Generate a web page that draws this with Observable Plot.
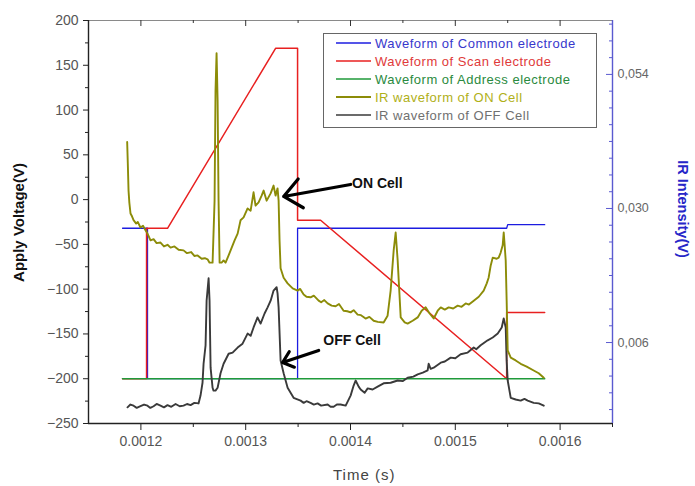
<!DOCTYPE html>
<html><head><meta charset="utf-8">
<script src="https://cdn.jsdelivr.net/npm/d3@7"></script>
<script src="https://cdn.jsdelivr.net/npm/@observablehq/plot@0.6"></script>
<style>
body{margin:0;background:#fff;}
#wrap{position:relative;width:695px;height:486px;font-family:"Liberation Sans",Arial,sans-serif;overflow:hidden;}
.ttl{position:absolute;white-space:nowrap;transform-origin:center center;}
#legend{position:absolute;left:323px;top:33px;width:274px;height:95px;border:1px solid #666;box-sizing:border-box;background:#fff;}
.row{position:absolute;left:0;width:100%;height:18px;}
.lt{position:absolute;left:51px;top:1px;font-size:13px;letter-spacing:0.5px;line-height:16px;white-space:nowrap;}
</style>
</head><body>
<div id="wrap"></div>
<script>
// ---- data (time in microseconds, electrode voltage in V, IR intensity in mV) ----
const commonT = [1182.5,1206.3,1206.3,1349.5,1349.5,1549.0,1550.0,1585.3];
const commonV = [-32,-32,-200,-200,-32,-32,-28,-28];
const scanT = [1182.5,1205.4,1205.4,1225.4,1328.5,1349.5,1349.5,1371.5,1549.0,1549.0,1585.3];
const scanV = [-200,-200,-32,-32,169,169,-23,-23,-200,-126,-126];
const addressT = [1182.5,1585.3];
const addressV = [-200,-200];
const onCellIR = [[1186.9,41.9],[1187.5,38.1],[1188.2,33.2],[1189.0,31.0],[1190.1,29.1],[1191.5,28.6],[1193.0,27.9],[1195.5,27.3],[1197.0,27.6],[1199.6,26.6],[1202.0,26.9],[1204.4,26.1],[1206.3,25.5],[1209.2,24.3],[1212.1,24.5],[1215.0,23.8],[1218.7,23.9],[1222.0,23.2],[1225.4,23.5],[1228.3,23.0],[1232.0,23.2],[1236.0,22.6],[1240.7,22.5],[1244.0,22.0],[1248.0,22.2],[1251.0,21.5],[1254.1,21.6],[1258.0,21.0],[1261.0,21.1],[1263.6,20.9],[1265.5,20.3],[1268.4,20.3],[1270.3,31.4],[1271.2,51.1],[1272.2,57.8],[1273.2,49.3],[1274.1,31.4],[1275.1,20.3],[1277.0,20.3],[1278.9,20.7],[1280.8,20.3],[1283.7,21.6],[1285.6,22.5],[1289.4,24.3],[1292.3,25.5],[1295.1,27.9],[1298.0,28.4],[1301.8,30.0],[1304.7,29.6],[1307.5,32.9],[1309.4,30.5],[1312.3,31.1],[1315.2,32.3],[1317.1,33.2],[1320.0,31.4],[1323.8,32.7],[1326.6,34.1],[1328.5,32.3],[1330.4,33.6],[1331.4,31.4],[1332.3,24.3],[1333.3,19.3],[1336.2,17.6],[1340.0,16.6],[1344.8,15.7],[1349.5,15.3],[1352.0,15.6],[1355.3,14.6],[1358.0,14.2],[1361.9,14.1],[1365.0,14.4],[1369.6,13.5],[1372.0,13.2],[1375.0,13.6],[1378.2,13.0],[1382.0,12.6],[1385.8,12.5],[1389.0,12.9],[1393.4,11.7],[1397.0,11.6],[1400.1,11.4],[1403.0,11.8],[1406.8,11.0],[1410.0,10.9],[1414.4,10.3],[1418.0,10.6],[1422.1,9.9],[1426.0,9.7],[1431.6,9.6],[1435.4,10.8],[1438.3,15.3],[1441.2,22.5],[1443.1,25.7],[1445.0,20.7],[1447.9,10.5],[1451.7,9.6],[1454.5,9.4],[1459.3,9.9],[1464.1,10.5],[1467.9,11.7],[1471.7,12.3],[1475.5,11.2],[1479.4,10.3],[1483.2,11.7],[1486.1,12.3],[1490.0,11.9],[1493.7,12.3],[1498.0,12.1],[1502.3,12.6],[1506.0,12.4],[1509.9,13.0],[1513.0,12.8],[1517.6,13.5],[1522.4,14.2],[1527.1,15.3],[1530.0,16.6],[1531.8,17.6],[1533.8,19.8],[1535.7,21.2],[1539.5,21.0],[1541.4,21.2],[1543.3,22.1],[1545.2,23.4],[1546.2,25.7],[1547.1,23.4],[1548.1,20.7],[1549.0,13.5],[1550.0,4.6],[1552.9,3.3],[1557.6,2.8],[1562.4,2.2],[1568.1,1.7],[1574.8,1.0],[1579.6,0.5],[1584.4,-0.3]];
const offCellIR = [[1187.2,-5.6],[1190.0,-5.1],[1193.0,-5.3],[1196.0,-5.7],[1199.6,-5.4],[1203.0,-5.1],[1206.3,-5.3],[1209.0,-5.7],[1212.1,-5.4],[1215.0,-5.0],[1218.7,-5.3],[1222.0,-5.6],[1225.4,-5.2],[1229.0,-5.5],[1233.1,-5.0],[1237.0,-5.4],[1240.7,-5.3],[1244.0,-5.0],[1247.4,-5.2],[1251.0,-4.8],[1255.0,-4.9],[1256.9,-3.5],[1258.8,-1.2],[1259.8,2.2],[1261.7,5.5],[1262.7,13.5],[1264.6,17.5],[1265.5,13.5],[1266.5,1.5],[1268.4,-2.1],[1269.3,-2.6],[1271.2,-2.6],[1273.2,-2.1],[1276.0,0.5],[1278.9,2.2],[1283.7,4.0],[1287.5,4.2],[1292.3,5.1],[1297.0,5.8],[1301.8,7.6],[1304.7,7.2],[1307.5,8.7],[1311.3,10.5],[1314.2,9.4],[1318.0,11.2],[1320.9,12.3],[1323.8,13.5],[1326.6,15.3],[1329.5,15.9],[1330.4,14.8],[1331.4,12.3],[1333.3,2.8],[1336.2,0.5],[1340.0,-2.1],[1345.7,-3.9],[1352.4,-4.4],[1355.3,-4.8],[1358.0,-4.5],[1361.9,-4.8],[1365.0,-5.1],[1368.6,-4.9],[1372.0,-5.3],[1378.2,-5.1],[1381.0,-5.5],[1383.9,-5.5],[1387.0,-5.1],[1390.6,-5.1],[1395.4,-5.3],[1400.1,-3.5],[1403.0,-1.7],[1404.9,-0.8],[1407.8,-1.9],[1409.7,-2.4],[1413.5,-3.0],[1416.4,-2.2],[1421.1,-2.4],[1425.9,-1.9],[1431.6,-1.3],[1438.3,-1.2],[1445.0,-0.8],[1450.0,-0.9],[1454.5,-0.3],[1460.0,-0.1],[1464.1,0.3],[1469.0,0.6],[1473.6,1.0],[1474.6,2.2],[1476.5,1.3],[1479.4,1.5],[1486.1,2.4],[1490.0,2.6],[1495.6,3.3],[1500.0,3.2],[1505.1,3.9],[1511.8,4.2],[1517.6,5.1],[1520.0,4.8],[1524.2,5.5],[1530.9,6.4],[1535.7,6.9],[1540.5,7.6],[1544.3,8.7],[1546.2,10.3],[1548.1,8.7],[1549.0,2.8],[1550.0,-0.8],[1552.9,-3.9],[1557.6,-4.2],[1562.4,-4.4],[1566.0,-4.1],[1569.1,-4.4],[1574.8,-4.8],[1579.6,-4.9],[1584.4,-5.3]];

const xTicks = [0.0012,0.0013,0.0014,0.0015,0.0016];
const xMinorTicks = [0.00125,0.00135,0.00145,0.00155,0.00165];
const yTicks = [200,150,100,50,0,-50,-100,-150,-200,-250];
const yMinorTicks = [175,125,75,25,-25,-75,-125,-175,-225];
const irTicks = [0.006,0.030,0.054];
const irMinorTicks = [-0.006,-0.003,0,0.003,0.009,0.012,0.015,0.018,0.021,0.024,0.027,0.033,0.036,0.039,0.042,0.045,0.048,0.051,0.057,0.060,0.063];
const legendNames = ["Waveform of Common electrode","Waveform of Scan electrode","Waveform of Address electrode","IR waveform of ON Cell","IR waveform of OFF Cell"];
const lineColors = ["#1c1ce0","#e82020","#1f9a3a","#8c8c08","#3a3a3a"];
const legendTextColors = ["#3838cc","#e03a3a","#2a8a40","#b0b018","#707070"];
const annotTexts = [{x:0.0014015,y:18,text:"ON Cell"},{x:0.001374,y:-157,text:"OFF Cell"}];
const annotArrows = [{x1:0.0014001,y1:16.9,x2:0.0013362,y2:3.5},{x1:0.0013696,y1:-168.5,x2:0.0013352,y2:-181.9}];

// right axis (IR intensity, V) mapped onto left voltage scale
const IR_0 = 0.030, IR_V0 = -9.9, IR_K = 6237.5;
const toLeft = ir => IR_V0 + (ir - IR_0) * IR_K;
const fromLeft = v => (v - IR_V0) / IR_K + IR_0;

const zipV = (T, V) => T.map((t, i) => ({t: t * 1e-6, v: V[i]}));
const irRows = arr => arr.map(([t, mv]) => ({t: t * 1e-6, v: toLeft(mv / 1000)}));

const common = zipV(commonT, commonV);
const scan = zipV(scanT, scanV);
const address = zipV(addressT, addressV);
const onCell = irRows(onCellIR);
const offCell = irRows(offCellIR);

const blank = () => "";
const RIGHT = "#5a5ad0";
const W = 695, H = 486, ML = 88, MR = 83, MT = 20, MB = 63;
const PW = W - ML - MR, PH = H - MT - MB;

const chart = Plot.plot({
  width: W, height: H,
  marginLeft: ML, marginRight: MR, marginTop: MT, marginBottom: MB,
  x: {domain: [0.00115, 0.00165], axis: null, label: null},
  y: {domain: [-250, 200], axis: null, label: null},
  style: {fontFamily: '"Liberation Sans", Arial, sans-serif', fontSize: "14px", color: "#444", background: "white", overflow: "visible"},
  marks: [
    Plot.ruleY([200], {stroke: "#8a8a8a", strokeWidth: 1.2}),
    // top frame ticks (inward)
    Plot.ruleX(xTicks, {stroke: "#333", insetBottom: PH - 6}),
    Plot.ruleX(xMinorTicks, {stroke: "#333", insetBottom: PH - 3}),
    // right axis ticks (inward)
    Plot.ruleY(irTicks.map(toLeft), {stroke: RIGHT, insetLeft: PW - 6}),
    Plot.ruleY(irMinorTicks.map(toLeft), {stroke: RIGHT, insetLeft: PW - 3}),
    Plot.line(common, {x: "t", y: "v", stroke: lineColors[0], strokeWidth: 1.3}),
    Plot.line(scan, {x: "t", y: "v", stroke: lineColors[1], strokeWidth: 1.5}),
    Plot.line(address, {x: "t", y: "v", stroke: lineColors[2], strokeWidth: 1.6}),
    Plot.line(offCell, {x: "t", y: "v", stroke: lineColors[4], strokeWidth: 1.9}),
    Plot.line(onCell, {x: "t", y: "v", stroke: lineColors[3], strokeWidth: 1.9}),
    Plot.arrow(annotArrows, {x1: "x1", y1: "y1", x2: "x2", y2: "y2", stroke: "black", strokeWidth: 3.2, headLength: 11, headAngle: 80}),
    Plot.text(annotTexts, {x: "x", y: "y", text: "text", textAnchor: "start", fontWeight: "bold", fontSize: 14, fill: "#111", style: "letter-spacing:1px"}),
    // left axis
    Plot.axisY(yTicks, {anchor: "left", tickSize: 5, tickPadding: 5, label: null, stroke: "#222", fill: "#555", style: "letter-spacing:0.8px"}),
    Plot.axisY(yMinorTicks, {anchor: "left", tickSize: 3, tickFormat: blank, label: null, stroke: "#222"}),
    // bottom axis
    Plot.axisX(xTicks, {anchor: "bottom", tickSize: 7, tickPadding: 6, tickFormat: d => d.toFixed(4), label: null, stroke: "#222", fill: "#555"}),
    Plot.axisX(xMinorTicks, {anchor: "bottom", tickSize: 4, tickFormat: blank, label: null, stroke: "#222"}),
    // right axis labels (IR)
    Plot.axisY(irTicks.map(toLeft), {anchor: "right", tickSize: 0, tickPadding: 5, label: null, fontSize: 12.5, fill: "#666",
      tickFormat: v => fromLeft(v).toFixed(3).replace(".", ",")}),
    Plot.ruleX([0.00165], {stroke: RIGHT, strokeWidth: 1.4}),
    Plot.ruleX([0.00115], {stroke: "#222", strokeWidth: 1.4}),
    Plot.ruleY([-250], {stroke: "#222", strokeWidth: 1.4})
  ]
});

const wrap = document.getElementById("wrap");
wrap.appendChild(chart);

function addTitle(text, cx, cy, rot, css) {
  const d = document.createElement("div");
  d.className = "ttl";
  d.textContent = text;
  d.style.cssText += css;
  wrap.appendChild(d);
  const w = d.offsetWidth, h = d.offsetHeight;
  d.style.left = (cx - w / 2) + "px";
  d.style.top = (cy - h / 2) + "px";
  d.style.transform = `rotate(${rot}deg)`;
}
addTitle("Apply Voltage(V)", 18, 222, -90, "font-weight:bold;font-size:15px;color:#111;");
addTitle("IR Intensity(V)", 682, 209, 90, "font-weight:bold;font-size:14.5px;color:#2626c8;");
addTitle("Time (s)", 364, 474, 0, "font-size:15px;color:#444;letter-spacing:1px;");

// legend drawn as a small inline SVG inside a bordered box
const NS = "http://www.w3.org/2000/svg";
const leg = document.createElement("div");
leg.id = "legend";
const lsvg = document.createElementNS(NS, "svg");
lsvg.setAttribute("width", 272); lsvg.setAttribute("height", 93);
lsvg.style.position = "absolute"; lsvg.style.left = "0"; lsvg.style.top = "0";
legendNames.forEach((name, i) => {
  const ln = document.createElementNS(NS, "line");
  ln.setAttribute("x1", 12); ln.setAttribute("x2", 47);
  ln.setAttribute("y1", 9 + 18 * i); ln.setAttribute("y2", 9 + 18 * i);
  ln.setAttribute("stroke", lineColors[i]);
  ln.setAttribute("stroke-width", i === 3 ? 2.2 : 1.5);
  lsvg.appendChild(ln);
  const t = document.createElementNS(NS, "text");
  t.setAttribute("x", 51); t.setAttribute("y", 9 + 18 * i);
  t.setAttribute("dy", "0.35em");
  t.setAttribute("fill", legendTextColors[i]);
  t.setAttribute("font-size", 13);
  t.setAttribute("font-family", '"Liberation Sans", Arial, sans-serif');
  t.setAttribute("letter-spacing", "0.5");
  t.textContent = name;
  lsvg.appendChild(t);
});
leg.appendChild(lsvg);
wrap.appendChild(leg);
</script>
</body></html>
